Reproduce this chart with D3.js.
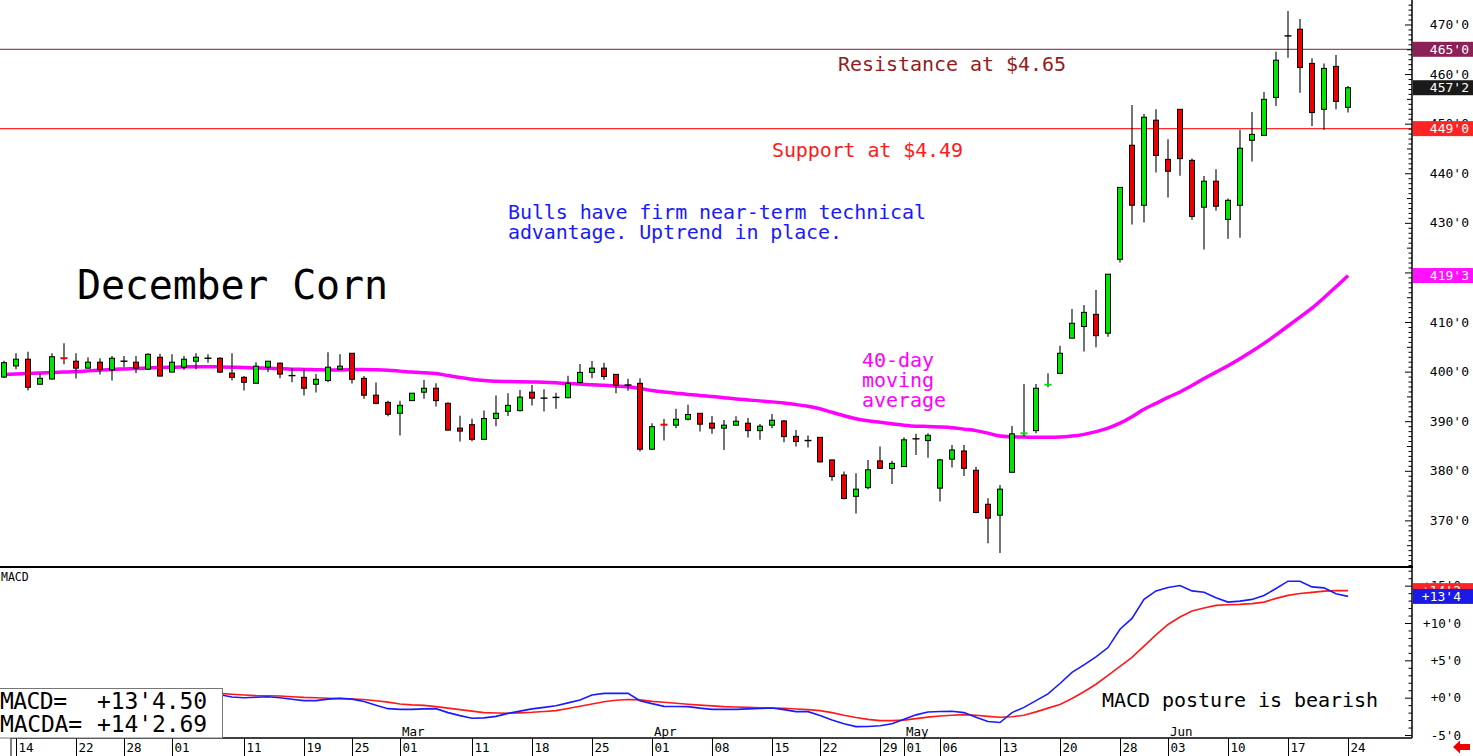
<!DOCTYPE html>
<html><head><meta charset="utf-8">
<script src="https://cdn.jsdelivr.net/npm/d3@7"></script>
<style>html,body{margin:0;padding:0;background:#fff;overflow:hidden}</style>
</head><body><svg id="c" width="1473" height="756"></svg>
<script>
// ---------- DATA ----------
const dates = [
"2019-01-11","2019-01-14","2019-01-15","2019-01-16","2019-01-17","2019-01-18","2019-01-22","2019-01-23","2019-01-24","2019-01-25","2019-01-28","2019-01-29","2019-01-30","2019-01-31",
"2019-02-01","2019-02-04","2019-02-05","2019-02-06","2019-02-07","2019-02-08","2019-02-11","2019-02-12","2019-02-13","2019-02-14","2019-02-15","2019-02-19","2019-02-20","2019-02-21","2019-02-22","2019-02-25","2019-02-26","2019-02-27","2019-02-28",
"2019-03-01","2019-03-04","2019-03-05","2019-03-06","2019-03-07","2019-03-08","2019-03-11","2019-03-12","2019-03-13","2019-03-14","2019-03-15","2019-03-18","2019-03-19","2019-03-20","2019-03-21","2019-03-22","2019-03-25","2019-03-26","2019-03-27","2019-03-28","2019-03-29",
"2019-04-01","2019-04-02","2019-04-03","2019-04-04","2019-04-05","2019-04-08","2019-04-09","2019-04-10","2019-04-11","2019-04-12","2019-04-15","2019-04-16","2019-04-17","2019-04-18","2019-04-22","2019-04-23","2019-04-24","2019-04-25","2019-04-26","2019-04-29","2019-04-30",
"2019-05-01","2019-05-02","2019-05-03","2019-05-06","2019-05-07","2019-05-08","2019-05-09","2019-05-10","2019-05-13","2019-05-14","2019-05-15","2019-05-16","2019-05-17","2019-05-20","2019-05-21","2019-05-22","2019-05-23","2019-05-24","2019-05-28","2019-05-29","2019-05-30","2019-05-31",
"2019-06-03","2019-06-04","2019-06-05","2019-06-06","2019-06-07","2019-06-10","2019-06-11","2019-06-12","2019-06-13","2019-06-14","2019-06-17","2019-06-18","2019-06-19","2019-06-20","2019-06-21","2019-06-24"];

const open = [398.9,401.15,402.5,397.45,398.5,402.7,402.1,400.7,401.9,400.35,
402.1,401.9,400.5,402.9,399.9,400.9,402.1,402.7,402.7,399.7,
398.85,397.65,400.9,401.7,399.2,398.85,397.45,398.2,400.5,403.7,
398.65,395.25,393.8,391.6,394.15,395.85,396.65,393.6,388.6,389.3,
386.35,390.55,392.0,392.15,395.85,394.65,394.8,394.75,397.8,399.85,
400.7,399.45,397.3,397.65,384.35,389.3,389.2,390.4,391.6,389.6,
388.6,389.2,389.6,388.1,389.2,390.05,386.95,386.1,386.75,382.2,
379.15,374.85,376.6,382.0,380.45,380.85,386.45,386.1,376.5,382.35,
384.0,380.1,373.25,371.05,379.7,387.55,388.1,397.35,399.65,406.75,
409.1,411.55,407.75,422.65,445.65,433.55,450.7,442.8,452.9,442.6,
433.15,438.4,430.7,433.55,446.65,447.65,455.3,467.7,469.05,462.15,
452.9,461.55,453.3];
const high = [402.2,403.7,404.0,399.7,403.7,405.7,403.7,402.9,402.7,403.15,
403.15,403.15,403.7,403.6,403.5,403.15,403.7,403.5,402.9,403.7,
399.1,401.9,402.1,401.9,400.7,400.5,399.5,403.9,403.5,403.7,
399.1,397.8,394.15,394.15,395.7,398.3,397.65,393.8,391.1,390.5,
392.15,395.2,395.65,396.3,397.3,396.45,395.75,399.15,401.55,402.15,
401.8,399.45,398.55,398.65,389.6,390.45,392.5,393.3,391.6,391.05,
390.25,391.0,390.65,389.45,391.45,390.25,388.25,387.1,386.75,382.2,
379.85,379.5,382.2,384.9,382.05,386.75,387.45,387.55,382.45,385.2,
385.2,380.8,374.45,377.15,389.05,397.5,397.5,399.65,405.2,412.65,
413.45,416.45,419.65,437.15,453.75,451.95,452.9,446.85,452.9,443.0,
439.45,440.8,434.9,448.75,452.35,456.4,464.5,472.7,471.1,463.2,
462.15,463.85,457.6];
const low = [398.7,400.5,396.2,397.45,398.45,401.5,398.6,400.7,399.4,398.2,
400.9,399.7,400.5,399.0,399.9,400.4,400.5,401.8,399.7,398.2,
396.2,397.65,399.9,398.65,397.85,395.2,395.8,397.85,400.5,397.6,
394.55,393.4,391.0,387.1,394.1,394.55,392.95,388.2,385.9,385.95,
386.35,389.0,391.05,391.95,393.15,391.95,392.5,394.6,397.65,398.65,
398.35,395.65,396.15,383.9,384.2,386.1,388.6,390.15,387.9,387.45,
384.2,389.2,386.7,386.25,388.6,385.75,384.9,384.7,381.65,378.0,
374.25,371.4,376.3,380.5,377.35,380.85,383.2,382.65,373.8,380.65,
378.95,371.45,365.4,363.4,379.7,386.9,387.55,396.85,399.65,406.75,
404.05,404.9,407.05,422.0,429.65,430.05,440.15,435.1,439.5,430.65,
424.65,432.45,426.8,427.0,442.35,447.65,453.55,463.3,456.25,449.55,
448.75,452.9,452.25];
const close = [401.8,402.5,396.85,398.65,403.0,402.6,400.7,401.9,400.4,402.7,
402.1,400.7,403.5,399.1,401.9,402.5,402.9,402.7,399.9,398.85,
397.85,401.1,402.1,399.5,399.2,396.65,398.45,400.9,401.1,398.45,
395.25,393.6,391.4,393.2,395.65,396.65,394.15,388.2,388.0,386.35,
390.55,391.6,393.2,394.85,394.65,394.65,394.8,397.65,399.85,400.7,
399.0,397.25,397.3,384.35,388.9,389.2,390.4,391.35,389.4,388.6,
389.2,390.0,388.1,389.0,390.2,386.9,385.9,386.1,381.8,378.85,
374.4,376.3,380.2,380.5,381.5,386.25,386.45,387.15,382.2,384.2,
380.5,371.6,370.45,376.3,387.45,387.6,396.65,397.4,403.7,409.75,
411.95,407.25,419.65,437.15,433.55,451.3,443.6,440.4,442.95,431.3,
438.4,433.35,434.55,445.05,447.85,454.9,462.8,467.7,461.35,452.25,
461.15,454.5,457.25];
const ma40 = [399.4,399.5,399.6,399.7,399.8,399.9,400.0,400.15,400.3,400.45,
400.55,400.65,400.75,400.85,400.9,400.95,401.0,401.0,400.95,400.9,
400.85,400.75,400.7,400.6,400.5,400.45,400.4,400.35,400.35,400.4,
400.45,400.4,400.3,400.1,399.9,399.75,399.6,399.2,398.8,398.45,
398.2,398.05,398.0,397.95,397.9,397.85,397.75,397.6,397.5,397.35,
397.25,397.1,396.95,396.6,396.2,395.9,395.65,395.4,395.2,395.0,
394.75,394.5,394.3,394.1,393.9,393.65,393.35,393.0,392.5,391.8,
391.1,390.5,390.1,389.8,389.5,389.2,389.0,388.95,388.85,388.7,
388.4,388.1,387.6,387.0,386.85,386.8,386.75,386.75,386.8,387.0,
387.35,387.9,388.6,389.6,390.9,392.4,393.6,394.8,395.9,397.2,
398.6,399.9,401.2,402.6,404.1,405.7,407.4,409.2,411.0,412.8,
414.9,417.1,419.375];
const macd = [1.2,1.2,0.9,0.7,0.9,1.0,0.9,0.9,0.8,0.9,
0.9,0.8,0.9,0.7,0.7,0.7,0.8,0.7,0.4,0.1,
0.0,0.05,0.13,0.0,-0.2,-0.4,-0.4,-0.2,-0.1,-0.2,
-0.5,-1.0,-1.47,-1.56,-1.56,-1.5,-1.47,-2.0,-2.4,-2.76,
-2.7,-2.5,-2.1,-1.8,-1.5,-1.3,-1.07,-0.7,-0.31,0.35,
0.58,0.58,0.58,-0.4,-0.8,-1.16,-1.18,-1.2,-1.4,-1.56,
-1.56,-1.56,-1.5,-1.45,-1.38,-1.6,-1.87,-1.87,-2.4,-3.0,
-3.5,-3.87,-3.85,-3.75,-3.5,-2.9,-2.3,-1.91,-1.85,-1.82,
-2.0,-2.62,-3.2,-3.33,-2.0,-1.3,-0.4,0.5,1.9,3.38,
4.4,5.47,6.71,9.16,10.62,13.16,14.3,14.75,15.02,14.3,
14.13,13.38,12.8,12.93,13.16,13.69,14.62,15.6,15.6,14.84,
14.71,13.91,13.5625];
const signal = [1.0,1.0,1.0,0.95,0.95,0.95,0.95,0.9,0.9,0.9,
0.85,0.85,0.85,0.8,0.8,0.75,0.7,0.65,0.58,0.45,
0.35,0.27,0.25,0.22,0.12,0.04,0.0,-0.07,-0.12,-0.17,
-0.25,-0.42,-0.6,-0.85,-0.97,-1.03,-1.2,-1.4,-1.6,-1.8,
-2.0,-2.05,-2.08,-2.03,-1.96,-1.85,-1.73,-1.45,-1.15,-0.85,
-0.55,-0.35,-0.25,-0.3,-0.5,-0.62,-0.75,-0.88,-1.0,-1.1,
-1.2,-1.25,-1.3,-1.35,-1.38,-1.41,-1.52,-1.6,-1.73,-2.0,
-2.35,-2.65,-2.9,-3.07,-3.07,-3.0,-2.8,-2.6,-2.45,-2.35,
-2.27,-2.35,-2.5,-2.62,-2.55,-2.35,-1.9,-1.4,-0.9,-0.1,
0.8,1.8,3.0,4.2,5.4,6.9,8.4,9.8,10.8,11.6,
12.0,12.36,12.45,12.5,12.6,12.8,13.3,13.7,13.96,14.1,
14.27,14.33,14.336];

const dayTicks = ["2019-01-14","2019-01-22","2019-01-28","2019-02-01","2019-02-11","2019-02-19","2019-02-25","2019-03-01","2019-03-11","2019-03-18","2019-03-25","2019-04-01","2019-04-08","2019-04-15","2019-04-22","2019-04-29","2019-05-01","2019-05-06","2019-05-13","2019-05-20","2019-05-28","2019-06-03","2019-06-10","2019-06-17","2019-06-24"];
const monthTicks = ["2019-03-01","2019-04-01","2019-05-01","2019-06-03"];
const monthNames = ["Mar","Apr","May","Jun"];
const priceTicks = [370,380,390,400,410,420,430,440,450,460,470];
const macdTicks = [-5,0,5,10,15];
const resistance = 465, support = 449;

// ---------- DRAW ----------
const svg = d3.select("#c");
const FONT = "DejaVu Sans Mono";
const AXX = 1412;
const x = d3.scalePoint().domain(dates).range([4, 1348]);
const y = d3.scaleLinear().domain([360.6, 474.94]).range([567, 0]);
const ym = d3.scaleLinear().domain([-5.4, 17.5]).range([738, 567]);

function fmt8(v, sign, dec) {
  const s = v < 0 ? "-" : (sign ? "+" : "");
  const a = Math.abs(v);
  const w = Math.floor(a + 1e-9);
  const e = (a - w) * 8;
  if (dec) return s + w + "'" + e.toFixed(2);
  return s + w + "'" + Math.floor(e + 1e-6);
}

svg.append("rect").attr("width", 1473).attr("height", 756).attr("fill", "#fff");
const defs = svg.append("defs");
defs.append("clipPath").attr("id", "cm").append("rect").attr("x", 0).attr("y", 0).attr("width", AXX).attr("height", 567);
defs.append("clipPath").attr("id", "cd").append("rect").attr("x", 0).attr("y", 567).attr("width", AXX).attr("height", 171);

const main = svg.append("g").attr("clip-path", "url(#cm)");
main.append("line").attr("x1", 0).attr("x2", AXX).attr("y1", y(resistance)).attr("y2", y(resistance))
  .attr("stroke", "#7a1c44").attr("stroke-width", 1);
main.append("line").attr("x1", 0).attr("x2", AXX).attr("y1", y(support)).attr("y2", y(support))
  .attr("stroke", "#ff2a2a").attr("stroke-width", 1.3);

main.append("path").datum(ma40)
  .attr("d", d3.line().x((d, i) => x(dates[i])).y(d => y(d)).curve(d3.curveMonotoneX))
  .attr("fill", "none").attr("stroke", "#ff00ff").attr("stroke-width", 3.5);

const GREEN = "#00e600", RED = "#ee0000";
const cg = main.append("g");
dates.forEach((d, i) => {
  const cx = x(d), o = open[i], c = close[i];
  cg.append("line").attr("x1", cx).attr("x2", cx).attr("y1", y(high[i])).attr("y2", y(low[i]))
    .attr("stroke", "#000").attr("stroke-width", 1.1);
  if (o === c) {
    cg.append("line").attr("x1", cx - 3.5).attr("x2", cx + 3.5).attr("y1", y(o)).attr("y2", y(o))
      .attr("stroke", "#000").attr("stroke-width", 1.4);
  } else if (Math.abs(c - o) < 0.15) {
    cg.append("rect").attr("x", cx - 3.5).attr("width", 7).attr("y", y(o) - 1).attr("height", 2)
      .attr("fill", c > o ? GREEN : RED);
  } else {
    const top = y(Math.max(o, c)), bot = y(Math.min(o, c));
    cg.append("rect").attr("x", cx - 2.5).attr("width", 5).attr("y", top).attr("height", bot - top)
      .attr("fill", c > o ? GREEN : RED).attr("stroke", "#000").attr("stroke-width", 1);
  }
});

function txt(g, s, xx, yy, size, color, len) {
  const t = g.append("text").attr("x", xx).attr("y", yy).text(s)
    .attr("font-family", FONT).attr("font-size", size).attr("fill", color);
  if (len) t.attr("textLength", len).attr("lengthAdjust", "spacing");
  return t;
}
txt(svg, "December Corn", 77, 299, 40, "#000", 311);
txt(svg, "Resistance at $4.65", 838, 71, 20, "#941c1c", 228);
txt(svg, "Support at $4.49", 772, 157, 20, "#ff1a1a", 191);
txt(svg, "Bulls have firm near-term technical", 508, 219, 20, "#1a1aff", 418);
txt(svg, "advantage. Uptrend in place.", 508, 239, 20, "#1a1aff", 334);
txt(svg, "40-day", 862, 367, 20, "#ff00ff", 72);
txt(svg, "moving", 862, 387, 20, "#ff00ff", 72);
txt(svg, "average", 862, 407, 20, "#ff00ff", 84);

// MACD panel
const mp = svg.append("g").attr("clip-path", "url(#cd)");
mp.append("path").datum(signal)
  .attr("d", d3.line().x((d, i) => x(dates[i])).y(d => ym(d)))
  .attr("fill", "none").attr("stroke", "#ff1a1a").attr("stroke-width", 1.6);
mp.append("path").datum(macd)
  .attr("d", d3.line().x((d, i) => x(dates[i])).y(d => ym(d)))
  .attr("fill", "none").attr("stroke", "#1a1aff").attr("stroke-width", 1.6);
txt(svg, "MACD", 1, 581, 11.5, "#000");
txt(svg, "MACD posture is bearish", 1102, 706.5, 20, "#000", 276);

// frame lines
svg.append("line").attr("x1", 0).attr("x2", AXX + 1).attr("y1", 567).attr("y2", 567).attr("stroke", "#000").attr("stroke-width", 2);
svg.append("line").attr("x1", AXX).attr("x2", AXX).attr("y1", 0).attr("y2", 738).attr("stroke", "#000").attr("stroke-width", 1.5);

// right axis ticks
function ticks(scale, vals, len) {
  const g = svg.append("g").attr("transform", `translate(${AXX},0)`)
    .call(d3.axisLeft(scale).tickValues(vals).tickSize(len).tickSizeOuter(0).tickFormat(""));
  g.select(".domain").remove();
  g.selectAll("line").attr("stroke", "#000").attr("stroke-width", 1);
}
ticks(y, d3.range(361, 475).filter(v => v % 5 !== 0), 3.5);
ticks(y, d3.range(365, 475, 10), 5);
ticks(y, priceTicks, 7);
ticks(ym, d3.range(-5, 18).filter(v => v % 5 !== 0), 3.5);
ticks(ym, macdTicks, 7);

priceTicks.forEach(v => {
  txt(svg, fmt8(v), 1469, y(v) + 4.5, 13, "#000").attr("text-anchor", "end");
});
macdTicks.forEach(v => {
  txt(svg, fmt8(v, true), 1461, ym(v) + 4.5, 12.6, "#000").attr("text-anchor", "end");
});

// value boxes
function vbox(yy, fill, label, right) {
  svg.append("rect").attr("x", AXX + 1).attr("y", yy - 7.5).attr("width", 60).attr("height", 15).attr("fill", fill);
  txt(svg, label, right, yy + 4.5, 13, "#fff").attr("text-anchor", "end");
}
vbox(y(resistance), "#8a2257", fmt8(resistance), 1469);
vbox(y(close[close.length - 1]), "#1a1a1a", fmt8(close[close.length - 1]), 1469);
vbox(y(support), "#ff2424", fmt8(support), 1469);
vbox(y(ma40[ma40.length - 1]), "#ff11ff", fmt8(ma40[ma40.length - 1]), 1469);
vbox(ym(signal[signal.length - 1]), "#ff2424", fmt8(signal[signal.length - 1], true), 1461);
vbox(ym(macd[macd.length - 1]), "#1a1ae6", fmt8(macd[macd.length - 1], true), 1461);

// date axis
svg.append("line").attr("x1", 11).attr("x2", AXX).attr("y1", 738).attr("y2", 738).attr("stroke", "#000").attr("stroke-width", 1.5);
svg.append("line").attr("x1", 11).attr("x2", 11).attr("y1", 738).attr("y2", 756).attr("stroke", "#000").attr("stroke-width", 1);
const xa = svg.append("g").attr("transform", "translate(0,738)")
  .call(d3.axisBottom(x).tickValues(dayTicks).tickSize(18).tickSizeOuter(0).tickFormat(""));
xa.select(".domain").remove();
xa.selectAll("line").attr("stroke", "#000").attr("stroke-width", 1);
dayTicks.forEach(d => txt(svg, d.slice(8), x(d) + 2.5, 751.5, 12.5, "#000"));
monthTicks.forEach((d, i) => txt(svg, monthNames[i], x(d) + 2, 736, 12.5, "#000"));

// legend box
svg.append("rect").attr("x", -1).attr("y", 688.5).attr("width", 223.5).attr("height", 49.5)
  .attr("fill", "#fff").attr("stroke", "#777").attr("stroke-width", 1);
txt(svg, "MACD=", 0, 709, 23, "#000", 67);
txt(svg, fmt8(macd[macd.length - 1], true, true), 97, 709, 23, "#000", 110);
txt(svg, "MACDA=", 0, 731.5, 23, "#000", 82);
txt(svg, fmt8(signal[signal.length - 1], true, true), 97, 731.5, 23, "#000", 110);

// red arrow
svg.append("path").attr("d", "M1453,747 L1460,740.5 L1460,744 L1470,744 L1470,750 L1460,750 L1460,753.5 Z").attr("fill", "#ee0000");
</script>
</body></html>
